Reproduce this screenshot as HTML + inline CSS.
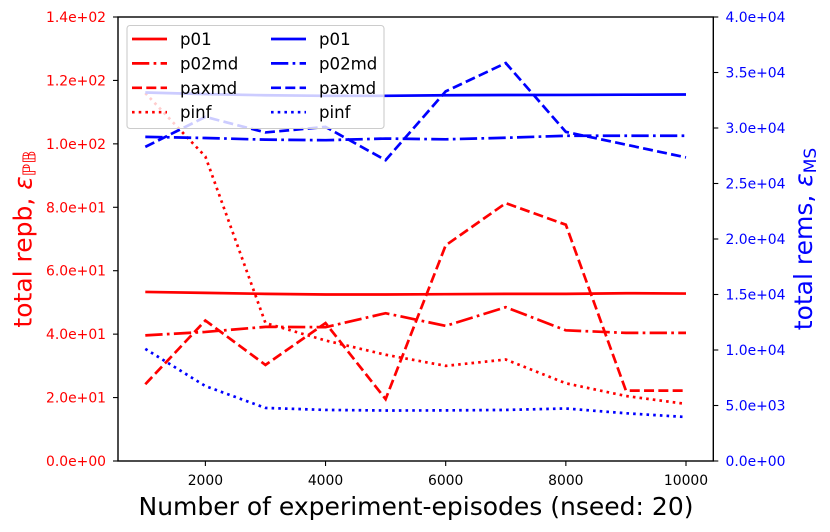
<!DOCTYPE html>
<html lang="en">
<head>
<meta charset="utf-8">
<title>Total repb and rems vs experiment episodes</title>
<style>
html,body{margin:0;padding:0;background:#fff;width:830px;height:532px;overflow:hidden}
svg{display:block}
text{font-family:"DejaVu Sans","Liberation Sans",sans-serif}
</style>
</head>
<body>
<svg id="chart" xmlns="http://www.w3.org/2000/svg" width="830" height="532" viewBox="0 0 830 532">
<rect width="830" height="532" fill="#fff"/>
<g id="series" fill="none" stroke-width="2.7"></g>
<g id="axes"></g>
<text x="416" y="515" font-size="25" text-anchor="middle" fill="#000">Number of experiment-episodes (nseed: 20)</text>
<text transform="translate(31.5 239) rotate(-90)" font-size="25" text-anchor="middle" fill="#f00">total repb, <tspan font-style="italic">ε</tspan><tspan font-size="18" dy="4" font-style="italic">ℙ𝔹</tspan></text>
<text transform="translate(812 239) rotate(-90)" font-size="25" text-anchor="middle" fill="#00f">total rems, <tspan font-style="italic">ε</tspan><tspan font-size="17" dy="4">MS</tspan></text>
<g id="legend">
<rect x="127" y="25.5" width="257" height="103" rx="3" fill="#fff" fill-opacity="0.8" stroke="#ccc" stroke-width="1.1"/>
</g>
</svg>
<script>
var episodes = [1000, 2000, 3000, 4000, 5000, 6000, 7000, 8000, 9000, 10000];
var redP01 = [53.3, 53.0, 52.7, 52.5, 52.5, 52.6, 52.7, 52.7, 52.9, 52.8];
var redP02md = [39.6, 40.7, 42.3, 42.2, 46.6, 42.6, 48.5, 41.2, 40.4, 40.4];
var redPaxmd = [24.2, 44.3, 30.3, 43.5, 19.5, 68.0, 81.3, 74.5, 22.2, 22.2];
var redPinf = [116.0, 96.0, 43.5, 38.0, 33.5, 30.0, 32.0, 24.5, 20.5, 18.0];
var blueP01 = [33200, 33050, 32950, 32900, 32900, 32950, 32970, 32980, 33000, 33020];
var blueP02md = [29200, 29100, 28950, 28900, 29050, 28980, 29120, 29300, 29300, 29300];
var bluePaxmd = [28300, 31000, 29600, 30100, 27100, 33300, 35850, 29650, 28500, 27350];
var bluePinf = [10100, 6750, 4780, 4600, 4550, 4560, 4600, 4730, 4300, 3960];
var xTicks = [2000, 4000, 6000, 8000, 10000];
var leftTicks = [0, 20, 40, 60, 80, 100, 120, 140];
var leftTickLabels = ["0.0e+00", "2.0e+01", "4.0e+01", "6.0e+01", "8.0e+01", "1.0e+02", "1.2e+02", "1.4e+02"];
var rightTicks = [0, 5000, 10000, 15000, 20000, 25000, 30000, 35000, 40000];
var rightTickLabels = ["0.0e+00", "5.0e+03", "1.0e+04", "1.5e+04", "2.0e+04", "2.5e+04", "3.0e+04", "3.5e+04", "4.0e+04"];
var legendLabels = ["p01", "p02md", "paxmd", "pinf"];

var NS = "http://www.w3.org/2000/svg";
var LEFT = 118, RIGHT = 713.3, TOP = 17, BOTTOM = 461;
function xPos(v) { return 145.3 + (v - 1000) * (686 - 145.3) / 9000; }
function yLeft(v) { return BOTTOM - v * (BOTTOM - TOP) / 140; }
function yRight(v) { return BOTTOM - v * (BOTTOM - TOP) / 40000; }
function make(tag, attrs, parent) {
  var el = document.createElementNS(NS, tag);
  for (var k in attrs) { el.setAttribute(k, attrs[k]); }
  parent.appendChild(el);
  return el;
}
var styles = { solid: null, dashdot: "17.3 4.3 2.7 4.3", dashed: "10 4.3", dotted: "2.6 4.1" };
var seriesLayer = document.getElementById("series");
function drawSeries(values, yFn, color, style, name) {
  var pts = values.map(function (v, i) { return xPos(episodes[i]).toFixed(2) + "," + yFn(v).toFixed(2); }).join(" ");
  var line = make("polyline", { points: pts, stroke: color }, seriesLayer);
  if (styles[style]) { line.setAttribute("stroke-dasharray", styles[style]); }
  
  
}
drawSeries(redP01, yLeft, "#f00", "solid", "repb-p01-line");
drawSeries(redP02md, yLeft, "#f00", "dashdot", "repb-p02md-line");
drawSeries(redPaxmd, yLeft, "#f00", "dashed", "repb-paxmd-line");
drawSeries(redPinf, yLeft, "#f00", "dotted", "repb-pinf-line");
drawSeries(blueP01, yRight, "#00f", "solid", "rems-p01-line");
drawSeries(blueP02md, yRight, "#00f", "dashdot", "rems-p02md-line");
drawSeries(bluePaxmd, yRight, "#00f", "dashed", "rems-paxmd-line");
drawSeries(bluePinf, yRight, "#00f", "dotted", "rems-pinf-line");

var axes = document.getElementById("axes");
var frame = make("rect", { x: LEFT, y: TOP, width: RIGHT - LEFT, height: BOTTOM - TOP, fill: "none", stroke: "#000", "stroke-width": 1.4 }, axes);


xTicks.forEach(function (v) {
  var x = xPos(v);
  var tick = make("line", { x1: x, x2: x, y1: BOTTOM, y2: BOTTOM + 5, stroke: "#000", "stroke-width": 1.1 }, axes);
  
  
  var label = make("text", { x: x, y: 485, "font-size": 13.9, "text-anchor": "middle", fill: "#000" }, axes);
  label.textContent = String(v);
  
  
});
leftTicks.forEach(function (v, i) {
  var y = yLeft(v);
  var tick = make("line", { x1: LEFT - 5, x2: LEFT, y1: y, y2: y, stroke: "#000", "stroke-width": 1.1 }, axes);
  
  
  var label = make("text", { x: 106, y: y + 5, "font-size": 13.9, "text-anchor": "end", fill: "#f00" }, axes);
  label.textContent = leftTickLabels[i];
  
  
});
rightTicks.forEach(function (v, i) {
  var y = yRight(v);
  var tick = make("line", { x1: RIGHT, x2: RIGHT + 5, y1: y, y2: y, stroke: "#000", "stroke-width": 1.1 }, axes);
  
  
  var label = make("text", { x: 725.5, y: y + 5, "font-size": 13.9, "text-anchor": "start", fill: "#00f" }, axes);
  label.textContent = rightTickLabels[i];
  
  
});

var legend = document.getElementById("legend");
var legendStyles = ["solid", "dashdot", "dashed", "dotted"];
function drawLegendColumn(handleX, textX, color) {
  legendLabels.forEach(function (name, i) {
    var y = 39 + i * 24.4;
    var handle = make("line", { x1: handleX, x2: handleX + 35, y1: y, y2: y, stroke: color, "stroke-width": 2.7 }, legend);
    if (styles[legendStyles[i]]) { handle.setAttribute("stroke-dasharray", styles[legendStyles[i]]); }
    
    
    var label = make("text", { x: textX, y: y + 6, "font-size": 16.6, fill: "#000" }, legend);
    label.textContent = name;
    
    
  });
}
drawLegendColumn(132, 180, "#f00");
drawLegendColumn(271, 319, "#00f");
</script>
</body>
</html>
